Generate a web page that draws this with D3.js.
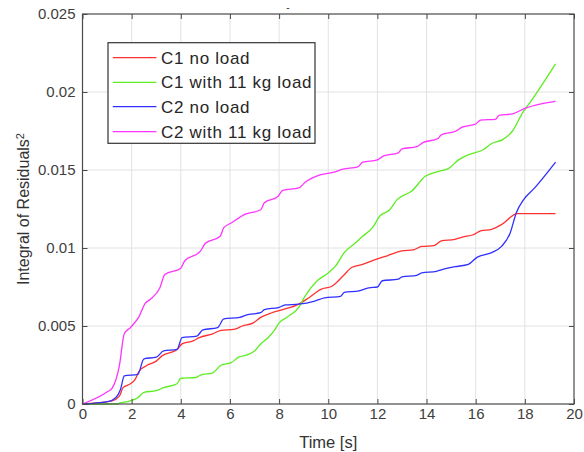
<!doctype html>
<html>
<head>
    <meta charset="UTF-8">
    <title>Integral of Residuals</title>
    <script src="https://cdn.jsdelivr.net/npm/d3@7"></script>
    <style>
        body { margin: 0; background: #fff; }
        text { font-family: "Liberation Sans", Arial, Helvetica, sans-serif; }
    </style>
</head>
<body>
    <div id="chart"></div>

    <script>
        // data (time in s, value = integral of residuals^2)
        var c1NoLoadT = [0, 1.2, 1.5, 1.65, 1.95, 2.15, 2.3, 2.6, 3.0, 3.25, 3.85, 4.05, 4.5, 4.75, 5.3, 5.6, 6.2, 6.5, 6.95, 7.25, 7.7, 8.15, 8.8, 9.2, 9.7, 10.15, 10.6, 10.95, 11.4, 12.0, 12.4, 12.95, 13.5, 13.8, 14.3, 14.6, 15.15, 15.45, 15.9, 16.2, 16.65, 17.05, 17.7, 19.25];
        var c1NoLoadV = [0, 0.0002, 0.0005, 0.00105, 0.0013, 0.0016, 0.0021, 0.00245, 0.00275, 0.0031, 0.0035, 0.00385, 0.00405, 0.00425, 0.0045, 0.0047, 0.0048, 0.005, 0.0052, 0.00555, 0.00585, 0.00605, 0.0064, 0.0068, 0.00735, 0.00755, 0.0082, 0.00875, 0.00895, 0.0093, 0.0095, 0.0098, 0.0099, 0.0101, 0.01015, 0.01045, 0.01055, 0.0107, 0.01085, 0.0111, 0.0112, 0.0115, 0.0122, 0.0122];

        var c1LoadT = [0, 1.4, 1.5, 1.95, 2.25, 2.5, 3.0, 3.3, 3.85, 4.0, 4.6, 4.8, 5.3, 5.65, 6.05, 6.35, 6.7, 7.0, 7.25, 7.55, 7.8, 8.0, 8.3, 8.8, 9.05, 9.55, 10.0, 10.3, 10.65, 11.05, 11.4, 11.8, 12.1, 12.5, 12.8, 13.4, 13.95, 14.45, 14.9, 15.3, 15.75, 16.3, 16.65, 17.1, 17.5, 17.9, 18.2, 19.25];
        var c1LoadV = [0, 0, 0.00005, 0.0002, 0.0004, 0.00075, 0.00085, 0.00105, 0.0013, 0.00165, 0.0017, 0.00185, 0.002, 0.0025, 0.00265, 0.003, 0.00315, 0.0034, 0.00385, 0.00425, 0.0047, 0.0052, 0.00555, 0.0062, 0.0069, 0.0079, 0.0084, 0.00885, 0.0097, 0.01025, 0.01075, 0.0113, 0.01205, 0.01245, 0.0131, 0.01365, 0.0146, 0.0149, 0.0151, 0.01565, 0.016, 0.0163, 0.0167, 0.01695, 0.0175, 0.01865, 0.0193, 0.0218];

        var c2NoLoadT = [0, 1.03, 1.35, 1.55, 1.7, 2.25, 2.5, 3.0, 3.3, 3.85, 4.05, 4.65, 4.9, 5.5, 5.75, 6.4, 6.65, 7.25, 7.4, 8.0, 8.25, 8.8, 9.45, 9.85, 10.5, 10.65, 11.25, 11.65, 12.0, 12.2, 12.85, 13.0, 13.6, 13.8, 14.4, 14.6, 15.15, 15.7, 16.05, 16.65, 17.05, 17.4, 17.65, 17.95, 18.4, 19.25];
        var c2NoLoadV = [0, 0.00015, 0.0004, 0.00095, 0.0018, 0.0019, 0.0029, 0.003, 0.0034, 0.0035, 0.00425, 0.00435, 0.00475, 0.0049, 0.00545, 0.00555, 0.0057, 0.00585, 0.00605, 0.0062, 0.00635, 0.0064, 0.0066, 0.0068, 0.0069, 0.00715, 0.00725, 0.00745, 0.0075, 0.0079, 0.008, 0.00815, 0.00825, 0.0084, 0.0085, 0.0086, 0.0088, 0.00895, 0.0094, 0.0097, 0.0101, 0.01095, 0.01225, 0.0131, 0.01385, 0.0155];

        var c2LoadT = [0, 1.03, 1.2, 1.5, 1.7, 1.95, 2.3, 2.55, 2.75, 3.15, 3.35, 4.0, 4.15, 4.8, 5.0, 5.6, 5.75, 6.05, 6.6, 7.25, 7.4, 7.95, 8.15, 8.8, 9.05, 9.7, 10.2, 10.6, 11.2, 11.4, 12.0, 12.25, 12.85, 13.0, 13.6, 13.85, 14.45, 14.6, 15.2, 15.45, 16.0, 16.2, 16.8, 16.95, 17.5, 18.0, 19.25];
        var c2LoadV = [0, 0.0008, 0.001, 0.00245, 0.0045, 0.0049, 0.0056, 0.00645, 0.0067, 0.00745, 0.0083, 0.0087, 0.00915, 0.0098, 0.0103, 0.01075, 0.0113, 0.0116, 0.01215, 0.01245, 0.0129, 0.0133, 0.0137, 0.01385, 0.0142, 0.0147, 0.01485, 0.01505, 0.0152, 0.0155, 0.01565, 0.0159, 0.0161, 0.01635, 0.0165, 0.01675, 0.017, 0.01725, 0.0175, 0.01775, 0.01795, 0.0182, 0.01825, 0.0185, 0.0186, 0.01895, 0.0194];

        var seriesNames = ["C1 no load", "C1 with 11 kg load", "C2 no load", "C2 with 11 kg load"];
        var seriesColors = ["#ff3030", "#5ced22", "#3030ff", "#ff33ff"];
        var xTicks = [0, 2, 4, 6, 8, 10, 12, 14, 16, 18, 20];
        var yTicks = [0, 0.005, 0.01, 0.015, 0.02, 0.025];
        var yTickLabels = ["0", "0.005", "0.01", "0.015", "0.02", "0.025"];

        var series = [
            { name: seriesNames[0], color: seriesColors[0], t: c1NoLoadT, v: c1NoLoadV },
            { name: seriesNames[1], color: seriesColors[1], t: c1LoadT, v: c1LoadV },
            { name: seriesNames[2], color: seriesColors[2], t: c2NoLoadT, v: c2NoLoadV },
            { name: seriesNames[3], color: seriesColors[3], t: c2LoadT, v: c2LoadV }
        ];

        var width = 584,
            height = 452;
        var margin = { top: 14, right: 10, bottom: 48, left: 82.5 };
        var w = width - margin.left - margin.right,
            h = height - margin.top - margin.bottom;

        var svg = d3.select("#chart")
            .append("svg")
            .attr("width", width)
            .attr("height", height);

        var g = svg.append("g")
            .attr("transform", "translate(" + margin.left + "," + margin.top + ")");

        var x = d3.scaleLinear().domain([0, 20]).range([0, w]);
        var y = d3.scaleLinear().domain([0, 0.025]).range([h, 0]);

        // grid
        g.selectAll(".vgrid")
            .data(xTicks.slice(1, -1))
            .enter()
            .append("line")
            .attr("x1", function (d) { return x(d); })
            .attr("x2", function (d) { return x(d); })
            .attr("y1", 0)
            .attr("y2", h)
            .style("stroke", "#e2e2e2");

        g.selectAll(".hgrid")
            .data(yTicks.slice(1, -1))
            .enter()
            .append("line")
            .attr("x1", 0)
            .attr("x2", w)
            .attr("y1", function (d) { return y(d); })
            .attr("y2", function (d) { return y(d); })
            .style("stroke", "#e2e2e2");

        // curves
        var line = d3.line()
            .x(function (d) { return x(d[0]); })
            .y(function (d) { return y(d[1]); })
            .curve(d3.curveMonotoneX);

        series.forEach(function (s) {
            var pts = s.t.map(function (t, i) { return [t, s.v[i]]; });
            g.append("path")
                .datum(pts)
                .attr("d", line)
                .style("fill", "none")
                .style("stroke", s.color)
                .style("stroke-width", 1.3);
        });

        // axes, MATLAB style: ticks inside on all four sides
        var xAxis = d3.axisBottom(x)
            .tickValues(xTicks)
            .tickSizeInner(-5)
            .tickSizeOuter(0)
            .tickPadding(4);

        var yAxis = d3.axisLeft(y)
            .tickValues(yTicks)
            .tickFormat(function (d, i) { return yTickLabels[i]; })
            .tickSizeInner(-5)
            .tickSizeOuter(0)
            .tickPadding(7);

        var gx = g.append("g")
            .attr("transform", "translate(0," + h + ")")
            .call(xAxis);

        var gy = g.append("g").call(yAxis);

        var gxTop = g.append("g")
            .call(d3.axisTop(x).tickValues(xTicks).tickSizeInner(-5).tickSizeOuter(0).tickFormat(""));

        var gyRight = g.append("g")
            .attr("transform", "translate(" + w + ",0)")
            .call(d3.axisRight(y).tickValues(yTicks).tickSizeInner(-5).tickSizeOuter(0).tickFormat(""));

        [gx, gy, gxTop, gyRight].forEach(function (a) {
            a.select(".domain").remove();
            a.selectAll(".tick line").style("stroke", "#4a4a4a");
            a.selectAll(".tick text")
                .style("font-size", "15px")
                .style("fill", "#404040");
        });

        g.append("rect")
            .attr("x", 0)
            .attr("y", 0)
            .attr("width", w)
            .attr("height", h)
            .style("fill", "none")
            .style("stroke", "#4a4a4a")
            .style("stroke-width", 1.2);

        // labels
        svg.append("text")
            .attr("x", margin.left + w / 2)
            .attr("y", 448)
            .style("text-anchor", "middle")
            .style("font-size", "16.5px")
            .style("fill", "#333")
            .text("Time [s]");

        var yl = svg.append("text")
            .attr("transform", "translate(29," + (margin.top + h / 2) + ") rotate(-90)")
            .style("text-anchor", "middle")
            .style("font-size", "16px")
            .style("fill", "#333");
        yl.append("tspan").text("Integral of Residuals");
        yl.append("tspan")
            .attr("dy", "-0.45em")
            .style("font-size", "11px")
            .text("2");

        // empty title leaves a small dash
        svg.append("text")
            .attr("x", 288)
            .attr("y", 11)
            .style("text-anchor", "middle")
            .style("font-size", "10px")
            .style("fill", "#333")
            .text("-");

        // legend
        var legX = 108, legY = 42.7, legW = 207, legH = 100.6;
        var rowY = [57.7, 82.3, 106.7, 131.7];

        svg.append("rect")
            .attr("x", legX)
            .attr("y", legY)
            .attr("width", legW)
            .attr("height", legH)
            .style("fill", "#fff")
            .style("stroke", "#333")
            .style("stroke-width", 1.2);

        var leg = svg.selectAll(".leg")
            .data(series)
            .enter()
            .append("g")
            .attr("class", "leg")
            .attr("transform", function (d, i) { return "translate(0," + rowY[i] + ")"; });

        leg.append("line")
            .attr("x1", 112.8)
            .attr("x2", 156.4)
            .attr("y1", 0)
            .attr("y2", 0)
            .style("stroke", function (d) { return d.color; })
            .style("stroke-width", 1.3);

        leg.append("text")
            .attr("x", 161)
            .attr("y", 0)
            .attr("dy", "0.36em")
            .style("font-size", "17px")
            .style("letter-spacing", "0.7px")
            .style("fill", "#262626")
            .text(function (d) { return d.name; });
    </script>
</body>
</html>
